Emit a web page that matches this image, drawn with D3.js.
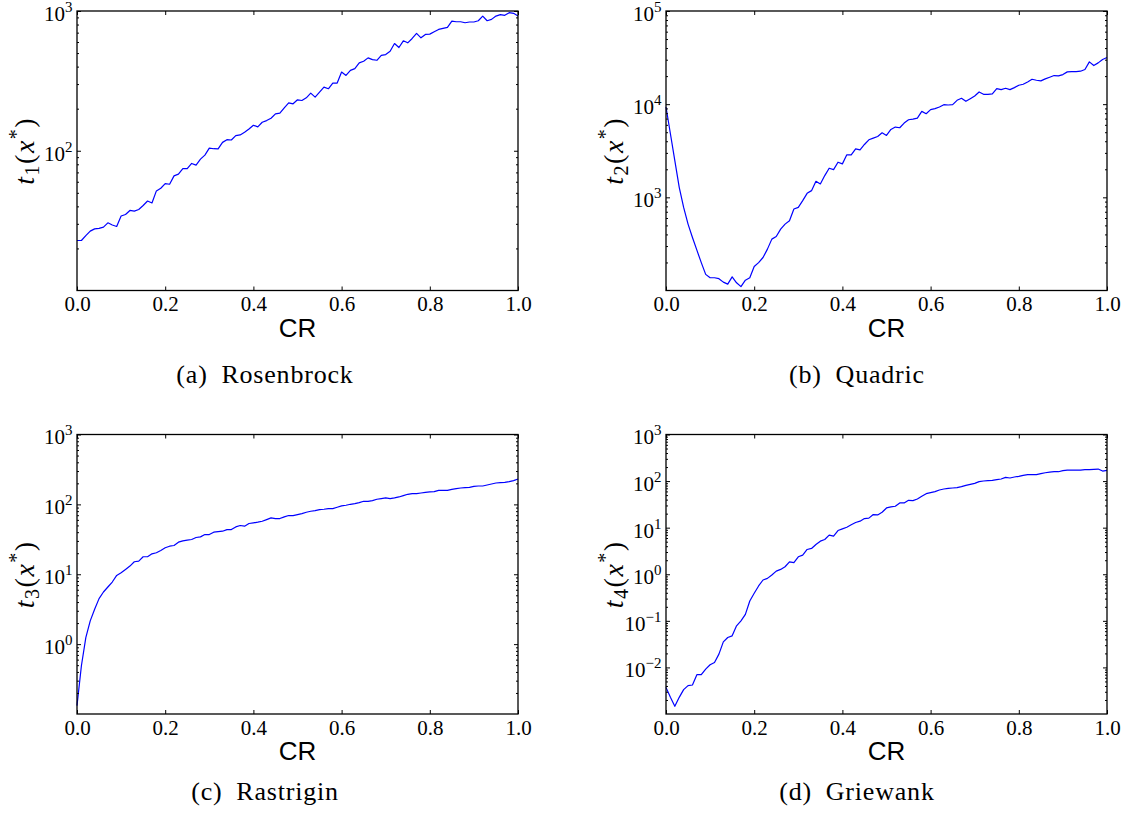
<!DOCTYPE html>
<html>
<head>
<meta charset="utf-8">
<script src="https://cdnjs.cloudflare.com/ajax/libs/d3/7.8.5/d3.min.js"></script>
<style>
  body { margin: 0; background: #fff; }
  svg { display: block; }
  .tick text { font-family: "Liberation Serif", "DejaVu Serif", serif; font-size: 21px; fill: #000; }
  .tick line { stroke: #000; stroke-width: 1; }
  .xlabel { font-family: "Liberation Sans", Arial, sans-serif; font-size: 26px; fill: #000; }
  .ylabel { font-family: "Liberation Serif", "DejaVu Serif", serif; font-size: 28px; fill: #000; letter-spacing: 1.5px; }
  .caption { font-family: "Liberation Serif", "DejaVu Serif", serif; font-size: 26px; fill: #000; letter-spacing: 0.8px; }
</style>
</head>
<body>
<script>
// CR grid (x axis)
var crValues = [0,0.01,0.02,0.03,0.04,0.05,0.06,0.07,0.08,0.09,
  0.1,0.11,0.12,0.13,0.14,0.15,0.16,0.17,0.18,0.19,
  0.2,0.21,0.22,0.23,0.24,0.25,0.26,0.27,0.28,0.29,
  0.3,0.31,0.32,0.33,0.34,0.35,0.36,0.37,0.38,0.39,
  0.4,0.41,0.42,0.43,0.44,0.45,0.46,0.47,0.48,0.49,
  0.5,0.51,0.52,0.53,0.54,0.55,0.56,0.57,0.58,0.59,
  0.6,0.61,0.62,0.63,0.64,0.65,0.66,0.67,0.68,0.69,
  0.7,0.71,0.72,0.73,0.74,0.75,0.76,0.77,0.78,0.79,
  0.8,0.81,0.82,0.83,0.84,0.85,0.86,0.87,0.88,0.89,
  0.9,0.91,0.92,0.93,0.94,0.95,0.96,0.97,0.98,0.99,1];

// t(x*) per test function
var rosenbrock = [22.8,22.8,24.7,26.6,27.6,27.8,28.4,30.5,29.4,28.7,
  34.1,35.0,37.4,37.0,38.0,40.6,43.7,42.3,51.6,53.9,
  58.2,57.6,66.1,68.0,74.6,74.6,81.1,78.9,87.1,93.1,
  104.5,103.4,103.0,114.8,120.0,119.4,128.2,129.7,135.5,143.2,
  152.2,148.1,159.9,164.4,170.9,183.5,185.6,202.8,220.3,216.7,
  231.5,228.9,239.3,258.5,241.9,262.8,285.5,277.7,305,305,
  366,346,376,387,425,437,462,449,444,482,
  488,515,585,548,612,592,636,691,643,680,
  683,710,738,751,763,847,838,838,824,834,
  834,852,920,852,871,920,941,931,973,962,
  920];

var quadric = [9322,4811,2483,1282,780,516,371,271,199,149,
  137,137,134,123,117,140,121,110,129,137,
  181,199,226,278,356,380,456,516,561,749,
  780,921,1104,1180,1487,1392,1712,2053,1986,2382,
  2286,2858,2858,3316,3236,3692,4146,4321,4503,4932,
  4618,5357,5676,5584,6268,6808,6922,7096,8372,7904,
  8727,8944,9322,9877,9795,9877,11000,11556,10727,11460,
  12246,13523,12762,12762,12868,14690,14330,14812,14330,15057,
  15958,16356,17334,18513,18058,17763,18667,19452,20277,20109,
  20786,22208,22393,22393,22580,23532,28454,25980,27755,30155,
  31690];

var rastrigin = [0.132,0.49,1.24,2.15,3.15,4.48,5.57,6.57,7.74,9.63,
  10.5,11.7,13.1,15.1,15.4,17.8,17.8,19.6,20.3,21.9,
  23.9,25.2,25.8,28.8,30.1,30.8,31.4,33.6,34.3,37.0,
  37.0,40.0,40.8,41.3,43.6,43.6,47.6,49.8,48.7,53.2,
  54.3,55.6,57.4,60.6,64.0,62.7,62.7,66.2,69.2,69.2,
  71.4,73.8,77.1,79.7,81.5,84.2,85.1,87.1,87.1,90.9,
  95.0,97.1,100.3,102.6,106.0,110.7,110.7,113.2,118.3,120.9,
  123.6,120.9,123.6,127.7,133.4,139.4,142.5,142.5,145.6,148.9,
  150.5,152.1,158.9,158.9,158.9,164.2,167.9,171.6,173.5,175.4,
  181.2,183.2,183.2,189.3,195.6,202.2,204.5,206.7,211.3,218.3,
  230.6];

var griewank = [0.00373,0.00228,0.00146,0.00228,0.00333,0.00406,0.00419,0.00697,0.00697,0.0092,
  0.0114,0.0128,0.0193,0.0354,0.0439,0.0476,0.078,0.0998,0.138,0.267,
  0.39,0.56,0.752,0.816,0.962,1.17,1.27,1.45,1.85,1.77,
  2.37,2.58,3.40,3.58,4.36,5.13,5.57,6.90,6.57,8.69,
  9.43,10.2,11.5,12.9,13.8,15.7,16.0,19.1,18.8,21.4,
  26.5,27.9,28.8,33.9,33.9,38.7,38.1,41.3,47.1,53.7,
  56.4,59.3,64.4,67.6,70.0,71.1,72.3,75.9,81.0,85.1,
  89.4,97.1,100.3,102.0,103.7,107.2,110.7,120.2,116.4,122.2,
  126.3,132.7,137.1,137.1,137.1,144.0,151.2,156.3,158.9,158.9,
  167.0,172.5,172.5,172.5,172.5,175.4,175.4,178.3,181.2,164.2,
  169.8];

var xTickValues = [0, 0.2, 0.4, 0.6, 0.8, 1.0];
var xTickLabels = ["0.0", "0.2", "0.4", "0.6", "0.8", "1.0"];
var yDomains = [[10, 1e3], [100, 1e5], [0.1, 1e3], [0.001, 1e3]];
var ySubscripts = ["1", "2", "3", "4"];
var captions = ["(a)\u2002Rosenbrock", "(b)\u2002Quadric", "(c)\u2002Rastrigin", "(d)\u2002Griewank"];
var xLabel = "CR";

var canvasWidth = 1129, canvasHeight = 819;
var plotW = 441, plotH = 279.5;

var panels = [
  {values: rosenbrock, left: 77,  top: 11,    capX: 265, capY: 383},
  {values: quadric,    left: 666, top: 11,    capX: 857, capY: 383},
  {values: rastrigin,  left: 77,  top: 434.5, capX: 265, capY: 800},
  {values: griewank,   left: 666, top: 434.5, capX: 857, capY: 800}
];

var svg = d3.select("body").append("svg")
  .attr("width", canvasWidth)
  .attr("height", canvasHeight);

panels.forEach(function(p, idx) {
  var dom = yDomains[idx];
  var xScale = d3.scaleLinear().domain([0, 1]).range([0, plotW]);
  var yScale = d3.scaleLog().domain(dom).range([plotH, 0]);

  var lo = Math.round(Math.log10(dom[0])), hi = Math.round(Math.log10(dom[1]));
  var majors = [], minors = [];
  for (var k = lo; k <= hi; k++) {
    if (k > lo) majors.push(Math.pow(10, k));
    if (k < hi) for (var m = 2; m <= 9; m++) minors.push(m * Math.pow(10, k));
  }

  var g = svg.append("g")
    .attr("transform", "translate(" + p.left + "," + p.top + ")");

  // data line
  var line = d3.line()
    .x(function(d, i) { return xScale(crValues[i]); })
    .y(function(d) { return yScale(d); });
  g.append("path")
    .datum(p.values)
    .attr("fill", "none")
    .attr("stroke", "#0000ff")
    .attr("stroke-width", 1.2)
    .attr("stroke-linejoin", "round")
    .attr("d", line);

  // x axes (ticks inside, top and bottom)
  g.append("g")
    .attr("transform", "translate(0," + plotH + ")")
    .call(d3.axisBottom(xScale).tickValues(xTickValues).tickSize(-4).tickSizeOuter(0).tickPadding(6)
      .tickFormat(function(d, i) { return xTickLabels[i]; }))
    .call(function(a) { a.select(".domain").remove(); });
  g.append("g")
    .call(d3.axisTop(xScale).tickValues(xTickValues).tickSize(-4).tickSizeOuter(0).tickFormat(""))
    .call(function(a) { a.select(".domain").remove(); });

  // y axes: minor ticks
  g.append("g")
    .call(d3.axisLeft(yScale).tickValues(minors).tickSize(-2).tickSizeOuter(0).tickFormat(""))
    .call(function(a) { a.select(".domain").remove(); });
  g.append("g")
    .attr("transform", "translate(" + plotW + ",0)")
    .call(d3.axisRight(yScale).tickValues(minors).tickSize(-2).tickSizeOuter(0).tickFormat(""))
    .call(function(a) { a.select(".domain").remove(); });

  // y axes: major ticks with 10^k labels
  var yAxisG = g.append("g")
    .call(d3.axisLeft(yScale).tickValues(majors).tickSize(-4).tickSizeOuter(0).tickPadding(4.5)
      .tickFormat(function(d) { return String(Math.round(Math.log10(d))); }))
    .call(function(a) { a.select(".domain").remove(); });
  yAxisG.selectAll(".tick text").each(function() {
    var t = d3.select(this);
    var ex = t.text().replace("-", "\u2212");
    t.text(null).attr("dy", "0.45em");
    t.append("tspan").text("10");
    t.append("tspan").attr("dy", -9).style("font-size", "15px").text(ex);
  });
  g.append("g")
    .attr("transform", "translate(" + plotW + ",0)")
    .call(d3.axisRight(yScale).tickValues(majors).tickSize(-4).tickSizeOuter(0).tickFormat(""))
    .call(function(a) { a.select(".domain").remove(); });

  // frame
  g.append("rect")
    .attr("width", plotW)
    .attr("height", plotH)
    .attr("fill", "none")
    .attr("stroke", "#000")
    .attr("stroke-width", 1.3);

  // x label
  g.append("text")
    .attr("class", "xlabel")
    .attr("x", plotW / 2)
    .attr("y", plotH + 46)
    .attr("text-anchor", "middle")
    .text(xLabel);

  // y label t_k(x*)
  var yl = g.append("text")
    .attr("class", "ylabel")
    .attr("text-anchor", "middle")
    .attr("transform", "translate(-43," + (plotH / 2) + ") rotate(-90)");
  yl.append("tspan").style("font-style", "italic").text("t");
  yl.append("tspan").style("font-size", "20px").attr("dy", 5).text(ySubscripts[idx]);
  yl.append("tspan").attr("dy", -5).text("(");
  yl.append("tspan").style("font-style", "italic").text("x");
  yl.append("tspan").style("font-size", "20px").attr("dy", -11).text("*");
  yl.append("tspan").attr("dy", 11).text(")");

  // caption
  svg.append("text")
    .attr("class", "caption")
    .attr("x", p.capX)
    .attr("y", p.capY)
    .attr("text-anchor", "middle")
    .text(captions[idx]);
});
</script>
</body>
</html>
